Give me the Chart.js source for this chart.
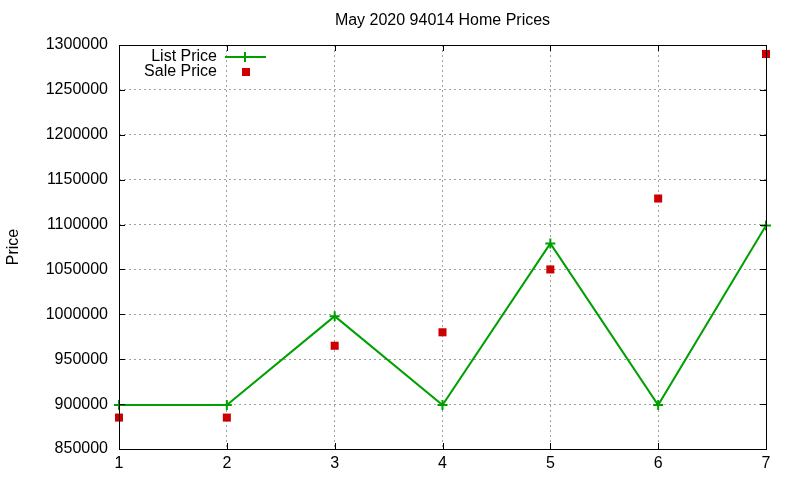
<!DOCTYPE html>
<html>
<head>
<meta charset="utf-8">
<script src="https://cdn.jsdelivr.net/npm/chart.js@4/dist/chart.umd.min.js"></script>
<style>
html,body{margin:0;padding:0;background:#fff;}
#wrap{width:800px;height:480px;}
</style>
</head>
<body>
<div id="wrap"><canvas id="c" width="800" height="480"></canvas></div>
<script>
const months = [1, 2, 3, 4, 5, 6, 7];
const listPrice = [899000, 899000, 998000, 899000, 1079000, 899000, 1099000];
const salePrice = [885000, 885000, 965000, 980000, 1050000, 1129000, 1290000];
const yTicks = [850000, 900000, 950000, 1000000, 1050000, 1100000, 1150000, 1200000, 1250000, 1300000];
const seriesNames = ['List Price', 'Sale Price'];
const chartTitle = 'May 2020 94014 Home Prices';
const yTitle = 'Price';

const FONT = '"Liberation Sans", Arial, sans-serif';
const GREEN = '#00a000';
const RED = '#cc0000';

const innerTicks = {
  id: 'innerTicks',
  afterDraw(chart) {
    const {ctx, chartArea: a, scales: {x, y}} = chart;
    ctx.save();
    ctx.strokeStyle = '#000';
    ctx.lineWidth = 1;
    ctx.beginPath();
    yTicks.forEach(v => {
      const py = Math.round(y.getPixelForValue(v)) + 0.5;
      ctx.moveTo(a.left, py); ctx.lineTo(a.left + 6, py);
      ctx.moveTo(a.right, py); ctx.lineTo(a.right - 6, py);
    });
    months.forEach(v => {
      const px = Math.round(x.getPixelForValue(v)) + 0.5;
      ctx.moveTo(px, a.bottom); ctx.lineTo(px, a.bottom - 6);
      ctx.moveTo(px, a.top); ctx.lineTo(px, a.top + 6);
    });
    ctx.stroke();
    ctx.strokeRect(Math.round(a.left) + 0.5, Math.round(a.top) + 0.5, Math.round(a.right - a.left), Math.round(a.bottom - a.top));
    // title
    ctx.fillStyle = '#000';
    ctx.font = '16px ' + FONT;
    ctx.textAlign = 'center';
    ctx.textBaseline = 'middle';
    ctx.fillText(chartTitle, (a.left + a.right) / 2, 21);
    // legend
    ctx.textAlign = 'right';
    const lx = a.left + 98, ly1 = a.top + 12, ly2 = a.top + 27;
    ctx.fillText(seriesNames[0], lx, ly1);
    ctx.fillText(seriesNames[1], lx, ly2);
    ctx.strokeStyle = GREEN; ctx.lineWidth = 2;
    ctx.beginPath();
    ctx.moveTo(lx + 8, ly1 + 0); ctx.lineTo(lx + 49, ly1 + 0);
    ctx.moveTo(lx + 28, ly1 - 5); ctx.lineTo(lx + 28, ly1 + 5);
    ctx.stroke();
    ctx.fillStyle = RED;
    ctx.fillRect(lx + 25, ly2 - 4, 8, 8);
    ctx.restore();
  }
};

new Chart(document.getElementById('c'), {
  type: 'line',
  data: {
    datasets: [
      {
        label: seriesNames[0],
        data: months.map((m, i) => ({x: m, y: listPrice[i]})),
        borderColor: GREEN,
        backgroundColor: GREEN,
        borderWidth: 2,
        pointStyle: 'cross',
        pointRadius: 5,
        pointBorderWidth: 2,
        tension: 0,
        clip: false
      },
      {
        label: seriesNames[1],
        data: months.map((m, i) => ({x: m, y: salePrice[i]})),
        showLine: false,
        borderColor: RED,
        backgroundColor: RED,
        pointStyle: 'rect',
        pointRadius: 5.7,
        pointBorderWidth: 0,
        clip: false
      }
    ]
  },
  options: {
    responsive: false,
    animation: false,
    layout: {padding: {left: 4, right: 34, top: 45, bottom: 0}},
    plugins: {
      legend: {display: false},
      tooltip: {enabled: false},
      title: {display: false}
    },
    scales: {
      x: {
        type: 'linear',
        min: 1, max: 7,
        afterBuildTicks: s => { s.ticks = months.map(v => ({value: v})); },
        afterFit: s => { s.height = 31; },
        ticks: {color: '#000', font: {family: FONT, size: 16}, padding: 5, callback: v => String(v)},
        grid: {color: '#a0a0a0', drawTicks: false, tickLength: 0},
        border: {display: false, dash: [2, 3]}
      },
      y: {
        type: 'linear',
        min: 850000, max: 1300000,
        afterBuildTicks: s => { s.ticks = yTicks.map(v => ({value: v})); },
        afterFit: s => { s.width = 115; },
        ticks: {color: '#000', font: {family: FONT, size: 16}, padding: 11, callback: v => String(v)},
        grid: {color: '#a0a0a0', drawTicks: false, tickLength: 0},
        border: {display: false, dash: [2, 3]},
        title: {display: true, text: yTitle, color: '#000', font: {family: FONT, size: 16}, padding: {top: 0, bottom: 0}}
      }
    }
  },
  plugins: [innerTicks]
});
</script>
</body>
</html>
